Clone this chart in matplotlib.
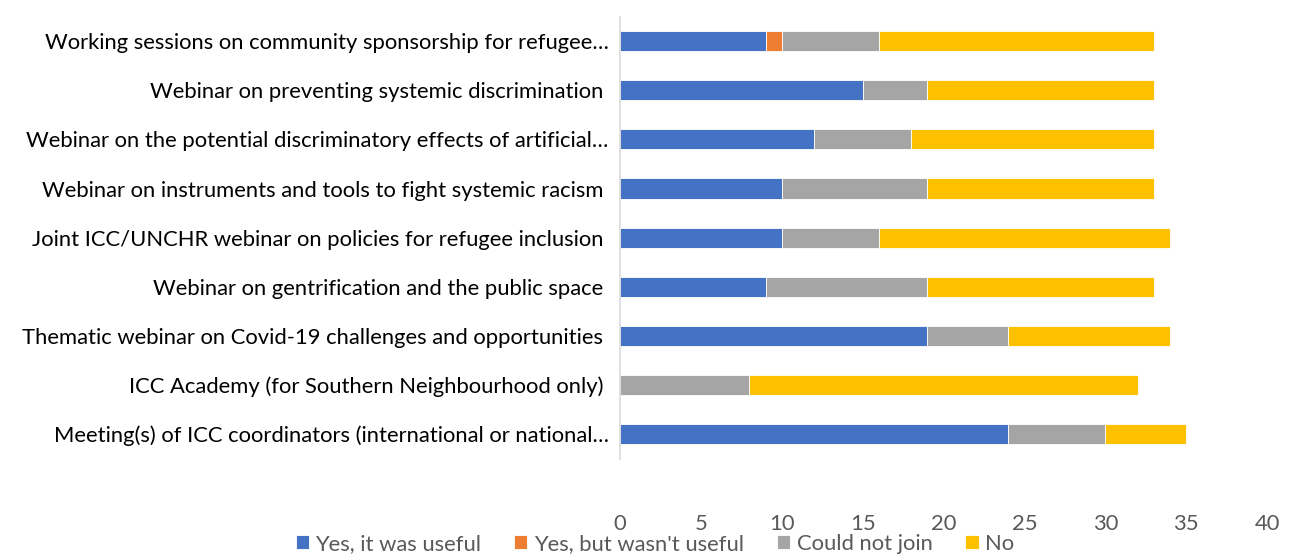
import numpy as np
import matplotlib.pyplot as plt

plt.rcParams['font.family'] = ['Lato', 'DejaVu Sans']

# categories, top to bottom as shown
labels = [
    "Working sessions on community sponsorship for refugee…",
    "Webinar on preventing systemic discrimination ",
    "Webinar on the potential discriminatory effects of artificial…",
    "Webinar on instruments and tools to fight systemic racism ",
    "Joint ICC/UNCHR webinar on policies for refugee inclusion ",
    "Webinar on gentrification and the public space ",
    "Thematic webinar on Covid-19 challenges and opportunities ",
    "ICC Academy (for Southern Neighbourhood only) ",
    "Meeting(s) of ICC coordinators (international or national…",
]
useful = [9, 15, 12, 10, 10, 9, 19, 0, 24]
not_useful = [1, 0, 0, 0, 0, 0, 0, 0, 0]
could_not = [6, 4, 6, 9, 6, 10, 5, 8, 6]
no = [17, 14, 15, 14, 18, 14, 10, 24, 5]

series = [
    ("Yes, it was useful", useful, "#4472C4"),
    ("Yes, but wasn't useful", not_useful, "#ED7D31"),
    ("Could not join", could_not, "#A5A5A5"),
    ("No", no, "#FFC000"),
]

fig = plt.figure(figsize=(12.97, 5.54), dpi=100)
ax = fig.add_axes([0.478, 0.172, 0.499, 0.798])

y = np.arange(len(labels))
left = np.zeros(len(labels))
for name, vals, col in series:
    vals = np.array(vals, dtype=float)
    ax.barh(y, vals, left=left, height=0.41, color=col, label=name,
            edgecolor="white", linewidth=0.6)
    left += vals

ax.set_yticks(y)
ax.set_yticklabels(labels, fontsize=15.8, color="#000000")
ax.set_ylim(len(labels) - 0.5, -0.5)
ax.set_xlim(0, 40)
ax.set_xticks(range(0, 41, 5))
ax.tick_params(axis="x", colors="#595959", labelsize=15.8, length=0, pad=40)
ax.tick_params(axis="y", length=0, pad=8)
for s in ["top", "right", "bottom"]:
    ax.spines[s].set_visible(False)
ax.spines["left"].set_color("#D9D9D9")
ax.spines["left"].set_linewidth(1.2)

leg = fig.legend(loc="center", bbox_to_anchor=(0.505, 0.018), ncol=4,
                 frameon=False, fontsize=15.8, handlelength=0.6,
                 handleheight=0.6, handletextpad=0.3, columnspacing=1.5,
                 borderpad=0)
for t in leg.get_texts():
    t.set_color("#595959")

fig.savefig("out.png", dpi=100)
